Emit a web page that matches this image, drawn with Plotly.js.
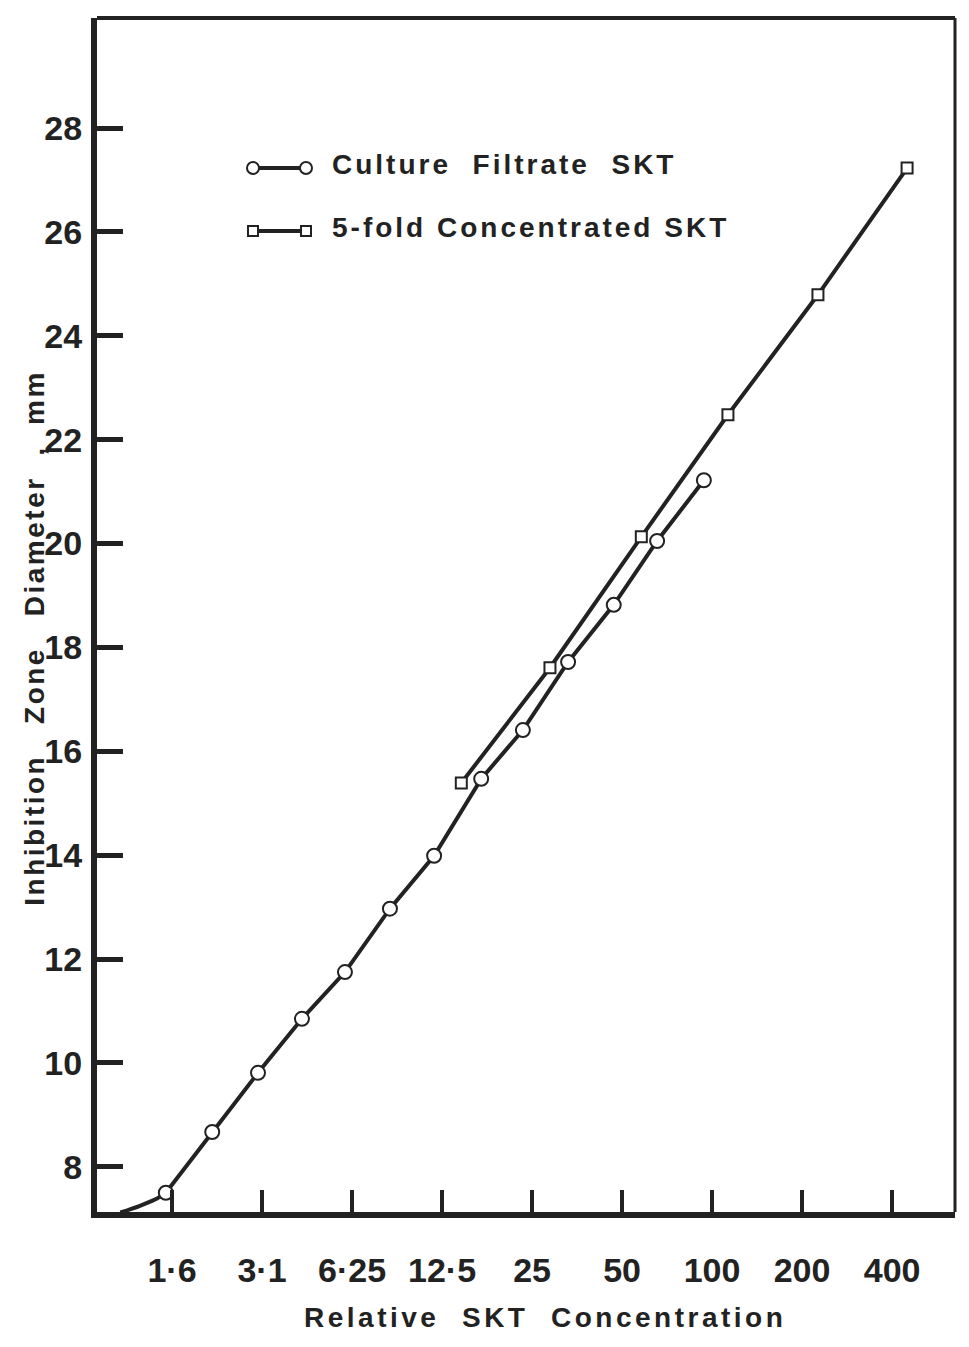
<!DOCTYPE html>
<html>
<head>
<meta charset="utf-8">
<script src="https://cdn.plot.ly/plotly-3.0.1.min.js"></script>
<style>
html,body{margin:0;padding:0;background:#fff;}
#chart{width:969px;height:1347px;}
#chart g.annotation[data-index="0"] text{letter-spacing:3.5px;}
#chart g.annotation[data-index="1"] text{letter-spacing:2.5px;}
#chart g.annotation[data-index="2"] text{letter-spacing:3px;}
#chart g.annotation[data-index="3"] text{letter-spacing:3px;}
</style>
</head>
<body>
<div id="chart"></div>
<script>
// ---- data ----
const concCF = [1.49, 2.13, 3.03, 4.25, 5.92, 8.37, 11.76, 16.9, 23.3, 33.0, 46.9, 65.5, 93.9];
const zoneCF = [7.5, 8.67, 9.81, 10.85, 11.75, 12.97, 13.99, 15.47, 16.41, 17.72, 18.82, 20.05, 21.22];
const concFK = [14.5, 28.7, 58, 113, 226, 449];
const zoneFK = [15.39, 17.61, 20.13, 22.48, 24.79, 27.23];
const curveX = [1.05, 1.22, 1.37, 1.49];
const curveY = [7.12, 7.25, 7.37, 7.5];
const xTickVals = [1.5625, 3.125, 6.25, 12.5, 25, 50, 100, 200, 400];
const xTickText = ['1·6', '3·1', '6·25', '12·5', '25', '50', '100', '200', '400'];
const yTickVals = [8, 10, 12, 14, 16, 18, 20, 22, 24, 26, 28];

// ---- layout geometry (pixels) ----
const W = 969, H = 1347;
const L = 97, R = 955, T = 18, B = 1212;
const pw = R - L, ph = B - T;
const px = p => (p - L) / pw;
const py = p => (B - p) / ph;

const ink = '#222';
const sans = '"Liberation Sans", Arial, Helvetica, sans-serif';

const traces = [
  {x: curveX, y: curveY, mode: 'lines', line: {color: ink, width: 4, shape: 'spline'}, showlegend: false, hoverinfo: 'skip'},
  {x: concCF, y: zoneCF, mode: 'lines+markers', name: 'Culture Filtrate SKT',
   line: {color: ink, width: 4}, marker: {symbol: 'circle', size: 14, color: '#fff', line: {color: ink, width: 2}}, showlegend: false},
  {x: concFK, y: zoneFK, mode: 'lines+markers', name: '5-fold Concentrated SKT',
   line: {color: ink, width: 4}, marker: {symbol: 'square', size: 11, color: '#fff', line: {color: ink, width: 2}}, showlegend: false}
];

const legendItems = [
  {y: 168, ty: 164, text: 'Culture  Filtrate  SKT', sym: 'circle'},
  {y: 231, ty: 228, text: '5-fold Concentrated SKT', sym: 'square'}
];

const shapes = [
  {type: 'line', xref: 'paper', yref: 'paper', x0: 0, x1: 1, y0: 1, y1: 1, line: {color: ink, width: 4}},
  {type: 'line', xref: 'paper', yref: 'paper', x0: 1, x1: 1, y0: 0, y1: 1, line: {color: ink, width: 3}}
];
const annotations = [
  {xref: 'paper', yref: 'paper', x: px(545), y: py(1318), text: 'Relative  SKT  Concentration', showarrow: false,
   font: {family: sans, size: 28, color: ink, weight: 'bold'}, xanchor: 'center', yanchor: 'middle'},
  {xref: 'paper', yref: 'paper', x: px(34), y: py(638), text: 'Inhibition   Zone   Diameter  ,  mm', showarrow: false, textangle: -90,
   font: {family: sans, size: 28, color: ink, weight: 'bold'}, xanchor: 'center', yanchor: 'middle'}
];
legendItems.forEach(it => {
  shapes.push({type: 'line', xref: 'paper', yref: 'paper', x0: px(253), x1: px(306), y0: py(it.y), y1: py(it.y), line: {color: ink, width: 4}});
  [253, 306].forEach(cx => {
    const r = it.sym === 'circle' ? 6 : 5;
    shapes.push({type: it.sym === 'circle' ? 'circle' : 'rect', xref: 'paper', yref: 'paper',
      x0: px(cx - r), x1: px(cx + r), y0: py(it.y + r), y1: py(it.y - r),
      fillcolor: '#fff', line: {color: ink, width: 2}});
  });
  annotations.push({xref: 'paper', yref: 'paper', x: px(330), y: py(it.ty), text: it.text, showarrow: false,
    xanchor: 'left', yanchor: 'middle', align: 'left', font: {family: sans, size: 28, color: ink, weight: 'bold'}});
});

const layout = {
  width: W, height: H,
  margin: {l: L, r: W - R, t: T, b: H - B, pad: 0},
  paper_bgcolor: '#fff', plot_bgcolor: '#fff',
  showlegend: false,
  xaxis: {
    type: 'log', range: [-0.057, 2.8125],
    tickvals: xTickVals, ticktext: xTickText,
    ticks: 'inside', ticklen: 22, tickwidth: 4, tickcolor: ink,
    showline: true, linewidth: 6, linecolor: ink,
    showgrid: false, zeroline: false,
    ticklabelstandoff: 23,
    tickfont: {family: sans, size: 34, color: ink, weight: 'bold'}
  },
  yaxis: {
    range: [7.13, 30.12],
    tickvals: yTickVals,
    ticks: 'inside', ticklen: 26, tickwidth: 5, tickcolor: ink,
    showline: true, linewidth: 6, linecolor: ink,
    showgrid: false, zeroline: false,
    ticklabelstandoff: 2,
    tickfont: {family: sans, size: 34, color: ink, weight: 'bold'}
  },
  shapes: shapes,
  annotations: annotations
};

Plotly.newPlot('chart', traces, layout, {staticPlot: true, displayModeBar: false});
</script>
</body>
</html>
